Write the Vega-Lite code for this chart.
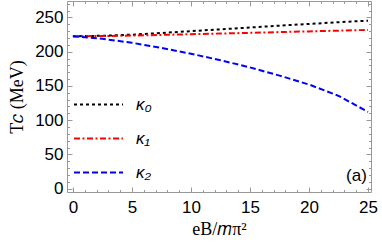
{
  "$schema": "https://vega.github.io/schema/vega-lite/v6.json",
  "width": 304,
  "height": 191,
  "autosize": {"type": "none"},
  "padding": {"left": 67, "top": 1, "right": 11, "bottom": 56},
  "background": "white",
  "data": {"values": [
    {"eB": 0, "Tc": 222.5, "series": "κ₀"},
    {"eB": 2.5, "Tc": 223.2, "series": "κ₀"},
    {"eB": 5, "Tc": 224.8, "series": "κ₀"},
    {"eB": 7.5, "Tc": 227.3, "series": "κ₀"},
    {"eB": 10, "Tc": 230, "series": "κ₀"},
    {"eB": 12.5, "Tc": 232.6, "series": "κ₀"},
    {"eB": 15, "Tc": 235.3, "series": "κ₀"},
    {"eB": 17.5, "Tc": 238, "series": "κ₀"},
    {"eB": 20, "Tc": 240.5, "series": "κ₀"},
    {"eB": 22.5, "Tc": 243, "series": "κ₀"},
    {"eB": 25, "Tc": 245.3, "series": "κ₀"},
    {"eB": 0, "Tc": 222.5, "series": "κ₁"},
    {"eB": 2.5, "Tc": 222.8, "series": "κ₁"},
    {"eB": 5, "Tc": 223.5, "series": "κ₁"},
    {"eB": 7.5, "Tc": 224.5, "series": "κ₁"},
    {"eB": 10, "Tc": 225.5, "series": "κ₁"},
    {"eB": 12.5, "Tc": 226.5, "series": "κ₁"},
    {"eB": 15, "Tc": 227.5, "series": "κ₁"},
    {"eB": 17.5, "Tc": 228.6, "series": "κ₁"},
    {"eB": 20, "Tc": 229.6, "series": "κ₁"},
    {"eB": 22.5, "Tc": 230.7, "series": "κ₁"},
    {"eB": 25, "Tc": 231.8, "series": "κ₁"},
    {"eB": 0, "Tc": 222.5, "series": "κ₂"},
    {"eB": 2.5, "Tc": 218.8, "series": "κ₂"},
    {"eB": 5, "Tc": 213, "series": "κ₂"},
    {"eB": 7.5, "Tc": 205.5, "series": "κ₂"},
    {"eB": 10, "Tc": 197, "series": "κ₂"},
    {"eB": 12.5, "Tc": 187.5, "series": "κ₂"},
    {"eB": 15, "Tc": 177, "series": "κ₂"},
    {"eB": 17.5, "Tc": 165, "series": "κ₂"},
    {"eB": 20, "Tc": 152, "series": "κ₂"},
    {"eB": 22.5, "Tc": 135.5, "series": "κ₂"},
    {"eB": 25, "Tc": 112, "series": "κ₂"}
  ]},
  "config": {
    "view": {"stroke": "#999999", "strokeWidth": 1},
    "axis": {
      "domain": false,
      "grid": false,
      "tickColor": "#999999",
      "tickWidth": 1,
      "labelFont": "Liberation Sans",
      "labelFontSize": 17,
      "labelColor": "#000000",
      "titleFont": "Liberation Serif",
      "titleFontSize": 18,
      "titleFontWeight": "normal",
      "titleColor": "#000000"
    },
    "legend": {
      "labelFont": "Liberation Sans",
      "labelFontSize": 17,
      "labelFontStyle": "italic",
      "labelColor": "#000000"
    }
  },
  "resolve": {"axis": {"x": "independent", "y": "independent"}},
  "layer": [
    {
      "mark": {"type": "line", "strokeWidth": 2, "clip": true},
      "encoding": {
        "x": {"field": "eB", "type": "quantitative",
          "scale": {"domain": [-0.5, 25.25], "nice": false, "zero": false},
          "axis": {"orient": "bottom", "values": [0, 5, 10, 15, 20, 25], "tickSize": -5, "labelPadding": 12, "title": "eB/𝑚π²", "titlePadding": 5}},
        "y": {"field": "Tc", "type": "quantitative",
          "scale": {"domain": [-5, 274], "nice": false, "zero": false},
          "axis": {"orient": "left", "values": [0, 50, 100, 150, 200, 250], "tickSize": -5, "labelPadding": 9, "title": "T𝑐 (MeV)", "titlePadding": 8}},
        "color": {"field": "series", "type": "nominal",
          "scale": {"domain": ["κ₀", "κ₁", "κ₂"], "range": ["#000000", "#ff0000", "#0000ff"]},
          "legend": {"orient": "none", "legendX": 6, "legendY": 78, "title": null, "symbolType": "stroke", "symbolSize": 2401, "symbolStrokeWidth": 2, "labelOffset": 12, "rowPadding": -14, "padding": 0}},
        "strokeDash": {"field": "series", "type": "nominal",
          "scale": {"domain": ["κ₀", "κ₁", "κ₂"], "range": [[3, 3], [6, 2.5, 2, 2.5], [6, 3]]},
          "legend": {"orient": "none", "legendX": 6, "legendY": 78, "title": null, "symbolType": "stroke", "symbolSize": 2401, "symbolStrokeWidth": 2, "labelOffset": 12, "rowPadding": -14, "padding": 0}}
      }
    },
    {
      "mark": {"type": "line", "opacity": 0},
      "encoding": {
        "x": {"field": "eB", "type": "quantitative",
          "axis": {"orient": "bottom", "values": [0,1,2,3,4,5,6,7,8,9,10,11,12,13,14,15,16,17,18,19,20,21,22,23,24,25], "tickSize": -2.5, "labels": false, "title": null}},
        "y": {"field": "Tc", "type": "quantitative",
          "axis": {"orient": "left", "values": [0,10,20,30,40,50,60,70,80,90,100,110,120,130,140,150,160,170,180,190,200,210,220,230,240,250,260,270], "tickSize": -2.5, "labels": false, "title": null}},
        "detail": {"field": "series"}
      }
    },
    {
      "mark": {"type": "line", "opacity": 0},
      "encoding": {
        "x": {"field": "eB", "type": "quantitative",
          "axis": {"orient": "top", "values": [0, 5, 10, 15, 20, 25], "tickSize": -5, "labels": false, "title": null}},
        "y": {"field": "Tc", "type": "quantitative",
          "axis": {"orient": "right", "values": [0, 50, 100, 150, 200, 250], "tickSize": -5, "labels": false, "title": null}},
        "detail": {"field": "series"}
      }
    },
    {
      "mark": {"type": "line", "opacity": 0},
      "encoding": {
        "x": {"field": "eB", "type": "quantitative",
          "axis": {"orient": "top", "values": [0,1,2,3,4,5,6,7,8,9,10,11,12,13,14,15,16,17,18,19,20,21,22,23,24,25], "tickSize": -2.5, "labels": false, "title": null}},
        "y": {"field": "Tc", "type": "quantitative",
          "axis": {"orient": "right", "values": [0,10,20,30,40,50,60,70,80,90,100,110,120,130,140,150,160,170,180,190,200,210,220,230,240,250,260,270], "tickSize": -2.5, "labels": false, "title": null}},
        "detail": {"field": "series"}
      }
    },
    {
      "data": {"values": [{"label": "(a)"}]},
      "mark": {"type": "text", "align": "right", "baseline": "middle", "font": "Liberation Sans", "fontSize": 17, "color": "#000000"},
      "encoding": {
        "x": {"datum": 24.9, "type": "quantitative", "axis": null},
        "y": {"datum": 18, "type": "quantitative", "axis": null},
        "text": {"field": "label"}
      }
    }
  ]
}
